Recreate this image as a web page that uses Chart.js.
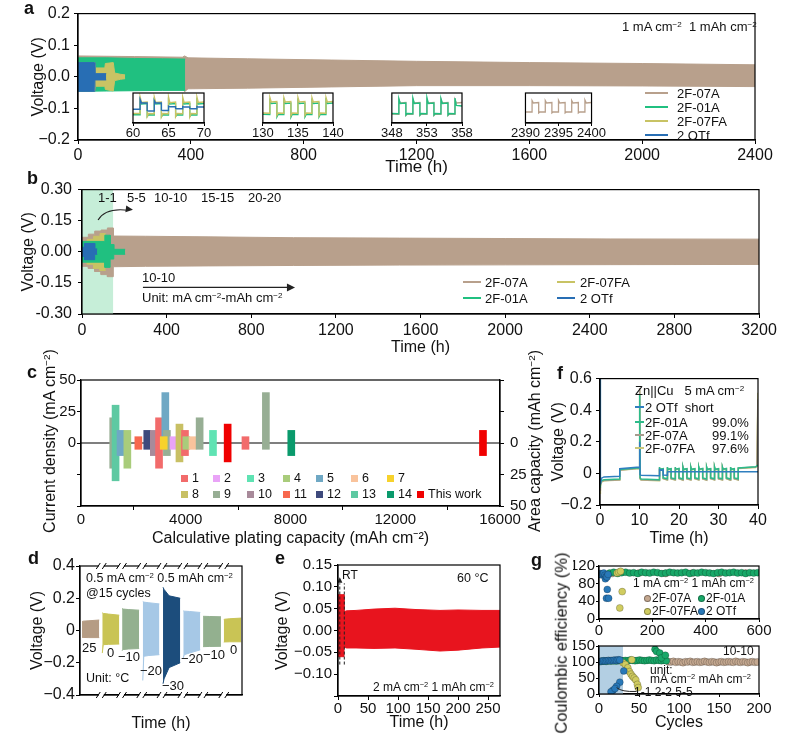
<!DOCTYPE html>
<html>
<head>
<meta charset="utf-8">
<title>Zn cells</title>
<script src="https://cdn.jsdelivr.net/npm/chart.js@4.4.0/dist/chart.umd.min.js"></script>
<style>
  body { margin: 0; background: #fff; }
  #fig { position: relative; width: 799px; height: 743px; overflow: hidden; font-family: "Liberation Sans", Arial, sans-serif; color: #111; }
  #fig canvas { position: absolute; }
  .t { position: absolute; white-space: nowrap; line-height: 1; }
  .t sup { font-size: 0.62em; vertical-align: 0.55em; line-height: 0; }
  .ln { position: absolute; height: 2px; }
  .sq { position: absolute; width: 7px; height: 7px; }
  .dot { position: absolute; width: 7px; height: 7px; border-radius: 50%; box-sizing: border-box; border: 0.6px solid rgba(0,0,0,0.35); }
</style>
</head>
<body>
<div id="fig">
  <canvas id="ca"></canvas>
  <canvas id="ca1"></canvas>
  <canvas id="ca2"></canvas>
  <canvas id="ca3"></canvas>
  <canvas id="ca4"></canvas>
  <canvas id="cb"></canvas>
  <canvas id="cc"></canvas>
  <canvas id="cf"></canvas>
  <canvas id="cd"></canvas>
  <canvas id="ce"></canvas>
  <canvas id="cg1"></canvas>
  <canvas id="cg2"></canvas>
</div>
<script>
// ---- a : 1 mA cm-2, 1 mAh cm-2 long cycling (envelopes of the dense voltage traces)
const aT07A = [0, 200, 370, 378, 390, 600, 900, 1200, 1600, 2000, 2400]
const aHi07A = [0.066, 0.064, 0.062, 0.066, 0.060, 0.057, 0.053, 0.049, 0.045, 0.042, 0.038]
const aLo07A = [-0.044, -0.042, -0.040, -0.047, -0.038, -0.036, -0.032, -0.028, -0.028, -0.029, -0.031]
const aT01A = [0, 100, 200, 300, 380]
const aHi01A = [0.060, 0.060, 0.058, 0.057, 0.056]
const aLo01A = [-0.046, -0.045, -0.044, -0.043, -0.043]
const aT07FA = [0, 60, 62, 95, 97, 125, 130, 150, 167]
const aHi07FA = [0.045, 0.045, 0.028, 0.028, 0.042, 0.045, 0.012, 0.008, 0.006]
const aLo07FA = [-0.045, -0.045, -0.030, -0.030, -0.040, -0.045, -0.012, -0.008, -0.006]
const aTOTf = [0, 58, 60, 100]
const aHiOTf = [0.045, 0.045, 0.010, 0.010]
const aLoOTf = [-0.046, -0.046, -0.010, -0.010]

// insets of a (local hours inside each 10 h window)
const insTime = [0, 1, 1, 1.2, 2, 2, 2.2, 3, 3, 3.2, 4, 4, 4.2, 5, 5, 5.2, 6, 6, 6.2, 7, 7, 7.2, 8, 8, 8.2, 9, 9, 9.2, 10]
const in1Ticks = ['60', '65', '70']
const in2Ticks = ['130', '135', '140']
const in3Ticks = ['348', '353', '358']
const in4Ticks = ['2390', '2395', '2400']
const in1FA = [-0.022, -0.022, 0.045, 0.022, 0.024, -0.035, -0.022, -0.023, 0.044, 0.022, 0.024, -0.036, -0.022, -0.023, 0.045, 0.021, 0.024, -0.035, -0.022, -0.023, 0.044, 0.022, 0.024, -0.036, -0.022, -0.023, 0.045, 0.022, 0.024]
const in1A01 = [-0.027, -0.027, 0.030, 0.016, 0.018, -0.034, -0.027, -0.028, 0.031, 0.016, 0.018, -0.035, -0.027, -0.028, 0.030, 0.016, 0.018, -0.034, -0.027, -0.028, 0.030, 0.016, 0.018, -0.034, -0.027, -0.028, 0.031, 0.016, 0.018]
const in1OTf = [-0.005, -0.005, 0.035, 0.020, 0.020, -0.010, -0.012, -0.012, 0.030, 0.020, 0.020, -0.008, -0.010, -0.010, 0.008, 0.005, 0.005, -0.002, -0.003, -0.003, 0.006, 0.004, 0.004, -0.002, -0.003, -0.003, 0.006, 0.004, 0.004]
const in2FA = [-0.020, -0.021, 0.043, 0.024, 0.026, -0.030, -0.020, -0.021, 0.042, 0.024, 0.026, -0.031, -0.020, -0.021, 0.043, 0.024, 0.026, -0.030, -0.020, -0.021, 0.042, 0.024, 0.026, -0.031, -0.020, -0.021, 0.043, 0.024, 0.026]
const in2A01 = [-0.025, -0.026, 0.030, 0.018, 0.020, -0.036, -0.025, -0.026, 0.031, 0.018, 0.020, -0.037, -0.025, -0.026, 0.030, 0.018, 0.020, -0.036, -0.025, -0.026, 0.030, 0.018, 0.020, -0.036, -0.025, -0.026, 0.031, 0.018, 0.020]
const in3A07 = [-0.024, -0.025, 0.034, 0.020, 0.022, -0.030, -0.024, -0.025, 0.035, 0.020, 0.022, -0.030, -0.024, -0.025, 0.034, 0.020, 0.022, -0.030, -0.024, -0.025, 0.035, 0.020, 0.022, -0.030, -0.024, -0.025, 0.034, 0.020, 0.022]
const in3A01 = [-0.022, -0.023, 0.038, 0.018, 0.020, -0.028, -0.022, -0.023, 0.040, 0.018, 0.020, -0.028, -0.022, -0.023, 0.042, 0.018, 0.020, -0.028, -0.022, -0.023, 0.038, 0.018, 0.020, -0.028, -0.022, -0.023, 0.040, 0.010, 0.008]
const in4A07 = [-0.016, -0.016, 0.030, 0.020, 0.022, -0.020, -0.016, -0.016, 0.030, 0.020, 0.022, -0.020, -0.016, -0.016, 0.031, 0.020, 0.022, -0.020, -0.016, -0.016, 0.030, 0.020, 0.022, -0.020, -0.016, -0.016, 0.032, 0.020, 0.022]

// ---- b : rate steps then 10 mA cm-2 / 10 mAh cm-2
const bShadeT = [0, 148]
const bShadeV = [0.3, 0.3]
const bT07A = [0, 30, 30, 60, 60, 90, 90, 120, 120, 148, 148, 300, 600, 1000, 1500, 2000, 2500, 3200]
const bHi07A = [0.07, 0.07, 0.085, 0.085, 0.10, 0.10, 0.105, 0.105, 0.115, 0.115, 0.076, 0.075, 0.072, 0.068, 0.066, 0.064, 0.062, 0.061]
const bLo07A = [-0.07, -0.07, -0.08, -0.08, -0.095, -0.095, -0.11, -0.11, -0.12, -0.12, -0.072, -0.070, -0.068, -0.066, -0.064, -0.063, -0.062, -0.061]
const bT07FA = [0, 25, 25, 55, 55, 85, 85, 112]
const bHi07FA = [0.045, 0.045, 0.06, 0.06, 0.075, 0.075, 0.088, 0.088]
const bLo07FA = [-0.045, -0.045, -0.06, -0.06, -0.08, -0.08, -0.09, -0.09]
const bT01A = [0, 108, 108, 133, 133, 150, 150, 204]
const bHi01A = [0.05, 0.05, 0.08, 0.08, 0.035, 0.035, 0.012, 0.012]
const bLo01A = [-0.05, -0.05, -0.075, -0.075, -0.035, -0.035, -0.012, -0.012]
const bTOTf = [0, 12, 12, 60, 60, 72]
const bHiOTf = [0.022, 0.022, 0.04, 0.04, 0.014, 0.014]
const bLoOTf = [-0.022, -0.022, -0.038, -0.038, -0.012, -0.012]

// ---- c : comparison with literature (current density up, areal capacity down)
const cCapacity = [1230, 1320, 1510, 1770, 2190, 2530, 2780, 2980, 3220, 3280, 3160, 3530, 3760, 3970, 4020, 4260, 4530, 5040, 5600, 6280, 7060, 8030, 15350]
const cCurrent = [20, 30, 10, 10, 5, 10, 10, 20, 40, 10, 5, 5, 15, 10, 5, 5, 20, 10, 15, 5, 40, 10, 10]
const cArea = [20, 30, 10, 20, 5, 5, 10, 20, 0, 10, 5, 5, 15, 10, 5, 5, 5, 10, 15, 5, 5, 10, 10]
const cRef = [9, 13, 5, 4, 11, 12, 10, 1, 5, 9, 7, 2, 8, 1, 4, 6, 9, 3, 0, 1, 9, 14, 0]
const cLabels = ['This work', '1', '2', '3', '4', '5', '6', '7', '8', '9', '10', '11', '12', '13', '14']
const cColors = ['#f00000', '#f26b6b', '#e9a3f7', '#5fe3b3', '#a9cc7b', '#6fa8c4', '#f9c39c', '#f7d22c', '#c8c064', '#97ae94', '#a88a9a', '#f7684e', '#3e4a7c', '#5ec9a2', '#0a9a6c']

// ---- f : Zn||Cu, 5 mA cm-2
const fTime = [
  0, 0.05, 0.15, 0.4, 1, 5, 5, 10, 10.05, 10.15, 10.4, 15,
  15, 15.15, 16, 16, 17,
  17, 17.15, 18, 18, 19,
  19, 19.15, 20, 20, 21,
  21, 21.15, 22, 22, 23,
  23, 23.15, 24, 24, 25,
  25, 25.15, 26, 26, 27,
  27, 27.15, 28, 28, 29,
  29, 29.15, 30, 30, 31,
  31, 31.15, 32, 32, 33,
  33, 33.15, 34, 34, 35,
  35, 39.4, 39.7, 39.85, 40
]
const fA01 = [
  -0.04, -0.09, -0.06, -0.045, -0.040, -0.036, 0.024, 0.036, 0.50, -0.028, -0.036, -0.040,
  0.040, 0.026, 0.030, -0.028, -0.034,
  0.041, 0.026, 0.030, -0.029, -0.034,
  0.040, 0.027, 0.031, -0.028, -0.035,
  0.041, 0.026, 0.030, -0.029, -0.034,
  0.040, 0.026, 0.030, -0.028, -0.034,
  0.041, 0.027, 0.031, -0.029, -0.035,
  0.040, 0.026, 0.030, -0.028, -0.034,
  0.041, 0.026, 0.030, -0.029, -0.034,
  0.040, 0.027, 0.031, -0.028, -0.035,
  0.041, 0.026, 0.030, -0.029, -0.034,
  0.034, 0.042, 0.047, 0.050, 0.052
]
const fA07 = [
  -0.05, -0.11, -0.07, -0.050, -0.045, -0.040, 0.022, 0.033, 0.54, -0.032, -0.040, -0.044,
  0.038, 0.024, 0.028, -0.032, -0.040,
  0.039, 0.024, 0.028, -0.033, -0.040,
  0.038, 0.025, 0.029, -0.032, -0.041,
  0.039, 0.024, 0.028, -0.033, -0.040,
  0.038, 0.024, 0.028, -0.032, -0.040,
  0.039, 0.025, 0.029, -0.033, -0.041,
  0.038, 0.024, 0.028, -0.032, -0.040,
  0.039, 0.024, 0.028, -0.033, -0.040,
  0.038, 0.025, 0.029, -0.032, -0.041,
  0.039, 0.024, 0.028, -0.033, -0.040,
  0.033, 0.040, 0.046, 0.24, 0.47
]
const fFA07 = [
  -0.06, -0.13, -0.08, -0.055, -0.047, -0.042, 0.020, 0.031, 0.53, -0.035, -0.042, -0.046,
  0.036, 0.022, 0.026, -0.034, -0.042,
  0.037, 0.022, 0.026, -0.035, -0.042,
  0.036, 0.023, 0.027, -0.034, -0.043,
  0.037, 0.022, 0.026, -0.035, -0.042,
  0.036, 0.022, 0.026, -0.034, -0.042,
  0.037, 0.023, 0.027, -0.035, -0.043,
  0.036, 0.022, 0.026, -0.034, -0.042,
  0.037, 0.022, 0.026, -0.035, -0.042,
  0.036, 0.023, 0.027, -0.034, -0.043,
  0.037, 0.022, 0.026, -0.035, -0.042,
  0.031, 0.038, 0.044, 0.30, 0.51
]
const fOTf = [
  0.0, 0.62, -0.07, -0.030, -0.022, -0.018, 0.030, 0.040, 0.20, -0.008, -0.012, -0.015,
  0.030, 0.020, 0.022, -0.010, -0.012,
  0.012, 0.010, 0.010, 0.010, 0.010,
  0.011, 0.010, 0.010, 0.010, 0.010,
  0.011, 0.010, 0.010, 0.010, 0.010,
  0.011, 0.010, 0.010, 0.010, 0.010,
  0.011, 0.010, 0.010, 0.010, 0.010,
  0.011, 0.010, 0.010, 0.010, 0.010,
  0.011, 0.010, 0.010, 0.010, 0.010,
  0.011, 0.010, 0.010, 0.010, 0.010,
  0.011, 0.010, 0.010, 0.010, 0.010,
  0.010, 0.010, 0.010, 0.010, 0.010
]

// ---- d : temperature steps, 0.5 mA cm-2 0.5 mAh cm-2 @15 cycles
const dTemps = ['25', '0', '−10', '−20', '−30', '−20', '−10', '0']
const dColors = ['#b59c84', '#c9c455', '#93b08f', '#a6c8e6', '#1c4d7c', '#a6c8e6', '#93b08f', '#c9c455']
const dX = [
  [0.10, 0.15, 0.40, 0.95], [1.10, 1.15, 1.40, 1.94], [2.08, 2.13, 2.38, 2.92], [3.10, 3.15, 3.40, 3.92],
  [4.10, 4.15, 4.40, 4.95], [5.10, 5.15, 5.40, 5.94], [6.08, 6.13, 6.38, 6.96], [7.10, 7.15, 7.40, 7.96]
]
const dHi = [
  [0.055, 0.058, 0.060, 0.065], [0.110, 0.106, 0.102, 0.095], [0.136, 0.133, 0.130, 0.126], [0.180, 0.176, 0.172, 0.165],
  [0.268, 0.255, 0.215, 0.200], [0.122, 0.120, 0.118, 0.112], [0.088, 0.088, 0.087, 0.085], [0.068, 0.070, 0.073, 0.077]
]
const dLo = [
  [-0.042, -0.043, -0.044, -0.044], [-0.140, -0.088, -0.086, -0.084], [-0.125, -0.118, -0.115, -0.112], [-0.310, -0.160, -0.155, -0.150],
  [-0.330, -0.300, -0.230, -0.200], [-0.170, -0.150, -0.140, -0.120], [-0.100, -0.100, -0.099, -0.098], [-0.072, -0.071, -0.070, -0.070]
]
const dBreaks = [1.05, 2.05, 3.05, 4.05, 5.08, 6.07, 7.1]

// ---- e : 60 °C, 2 mA cm-2 1 mAh cm-2
const eT = [0, 10, 10, 14, 30, 60, 95, 130, 170, 200, 240, 270]
const eHi = [0.082, 0.082, 0.043, 0.045, 0.046, 0.049, 0.051, 0.048, 0.046, 0.047, 0.046, 0.046]
const eLo = [-0.060, -0.060, -0.038, -0.040, -0.040, -0.041, -0.040, -0.043, -0.047, -0.045, -0.040, -0.038]
const eRT = [3, 10.5]

// ---- g : Coulombic efficiency
const g1Cyc01A = [40, 55, 70, 85, 100, 115, 130, 145, 160, 175, 190, 205, 220, 235, 250, 265, 280, 295, 310, 325, 340, 355, 370, 385, 400, 415, 430, 445, 460, 475, 490, 505, 520, 535, 550, 565, 580, 595]
const g1Ce01A = [104, 106, 103, 105, 106, 104, 105, 103, 106, 105, 104, 106, 105, 103, 104, 106, 105, 104, 105, 106, 103, 105, 104, 106, 105, 104, 103, 105, 106, 104, 105, 106, 104, 105, 103, 105, 104, 105]
const g1Cyc07A = [50, 150, 250, 350, 450, 550]
const g1Ce07A = [103, 104, 103, 104, 103, 104]
const g1CycOTf = [2, 6, 10, 14, 18, 22, 24, 27, 30, 31, 28, 34, 36]
const g1CeOTf = [101, 103, 100, 102, 104, 99, 91, 96, 95, 67, 47, 101, 47]
const g1Cyc07FA = [68, 74, 78, 81, 87]
const g1Ce07FA = [104, 106, 25, 108, 62]

const g2ShadeC = [0, 30]
const g2ShadeV = [150, 150]
const g2CycOTf = [2, 4, 6, 8, 10, 12, 14, 16, 18, 20, 22, 24, 26, 31, 26, 22, 17.5, 15, 20]
const g2CeOTf = [102, 103, 104, 103, 104, 105, 104, 105, 105, 106, 105, 107, 106, 72, 37, 24, 12, 7, 17]
const g2Cyc07FA = [30, 33, 36, 38, 40, 42, 44, 46, 48, 49, 41]
const g2Ce07FA = [98, 92, 82, 70, 62, 55, 50, 44, 30, 20, 107]
const g2Cyc01A = [0, 3, 6, 9, 12, 15, 18, 21, 24, 27, 30, 33, 36, 39, 42, 45, 48, 51, 54, 57, 60, 63, 66, 69, 72, 75, 78, 81, 84, 70, 72, 76, 78, 83]
const g2Ce01A = [101, 102, 103, 102, 104, 103, 104, 103, 104, 105, 104, 105, 104, 106, 105, 104, 105, 106, 105, 104, 105, 106, 105, 104, 106, 105, 104, 105, 104, 140, 133, 128, 113, 121]
const g2Cyc07A = [87, 90, 93, 96, 99, 102, 105, 108, 111, 114, 117, 120, 123, 126, 129, 132, 135, 138, 141, 144, 147, 150, 153, 156, 159, 162, 165, 168, 171, 174, 177, 180, 183, 186, 189, 192, 195, 198]
const g2Ce07A = [101, 100, 102, 99, 101, 100, 98, 101, 100, 102, 99, 100, 101, 99, 100, 102, 100, 99, 101, 100, 98, 100, 101, 99, 100, 101, 100, 99, 102, 100, 99, 101, 100, 98, 100, 101, 99, 100]

const col = { a07: '#b8a08c', a01: '#20c080', fa: '#c8c364', otf: '#286eb4' }

Chart.defaults.font.family = '"Liberation Sans", Arial, sans-serif'
Chart.defaults.color = '#111'
Chart.register({
  id: 'frame',
  afterDraw(ch) {
    const a = ch.chartArea, c = ch.ctx
    c.save()
    c.strokeStyle = '#000'
    c.lineWidth = 1.2
    c.strokeRect(a.left, a.top, a.right - a.left, a.bottom - a.top)
    c.restore()
  }
})

const pts = (xs, ys) => xs.map((x, i) => ({ x, y: ys[i] }))

function band(xs, hi, lo, color, order) {
  return [
    { data: pts(xs, hi), borderColor: color, backgroundColor: color, borderWidth: 1, pointRadius: 0, fill: '+1', order },
    { data: pts(xs, lo), borderColor: color, backgroundColor: color, borderWidth: 1, pointRadius: 0, fill: false, order }
  ]
}
function trace(xs, ys, color, width, order) {
  return { data: pts(xs, ys), borderColor: color, borderWidth: width, pointRadius: 0, fill: false, order }
}
function dots(xs, ys, color, order) {
  return { type: 'scatter', data: pts(xs, ys), backgroundColor: color, borderColor: 'rgba(0,0,0,0.35)', borderWidth: 0.6, pointRadius: 3.5, order }
}

function canvas(id, L, T, R, B, m) {
  const c = document.getElementById(id)
  c.width = R - L + m[0] + m[2]
  c.height = B - T + m[1] + m[3]
  c.style.left = (L - m[0]) + 'px'
  c.style.top = (T - m[1]) + 'px'
  return c
}

function axis(min, max, step, size, fmt, title, tsize, pad) {
  return {
    type: 'linear', min, max,
    border: { color: '#000', width: 1.2 },
    grid: { drawOnChartArea: false, color: '#000', tickLength: 4 },
    ticks: { stepSize: step, includeBounds: false, autoSkip: false, maxRotation: 0, minRotation: 0, padding: pad, font: { size }, color: '#111', callback: fmt },
    title: { display: !!title, text: title || '', font: { size: tsize || 16 }, padding: 0, color: '#111' }
  }
}

function opts(m, x, y, y2) {
  x.afterFit = s => { s.height = m[3] }
  y.afterFit = s => { s.width = m[0] }
  const scales = { x, y }
  if (y2) {
    y2.afterFit = s => { s.width = m[2] }
    scales.y2 = y2
  }
  return {
    responsive: false, animation: false, events: [],
    layout: { padding: { left: 0, top: m[1], right: y2 ? 0 : m[2], bottom: 0 } },
    plugins: { legend: { display: false }, tooltip: { enabled: false } },
    scales
  }
}

const plain = v => String(v)
const neg = (v, d, minus) => Math.abs(v) < 1e-9 ? (0).toFixed(d) : (v < 0 ? minus : '') + Math.abs(v).toFixed(d)

function head(c, x, y, ang, s) {
  c.beginPath()
  c.moveTo(x, y)
  c.lineTo(x - s * Math.cos(ang - 0.45), y - s * Math.sin(ang - 0.45))
  c.lineTo(x - s * Math.cos(ang + 0.45), y - s * Math.sin(ang + 0.45))
  c.closePath()
  c.fill()
}

// ---------- a
const mA = [49, 12, 30, 38]
new Chart(canvas('ca', 78, 12, 755, 140, mA), {
  type: 'line',
  data: {
    datasets: [
      ...band(aTOTf, aHiOTf, aLoOTf, col.otf, 0),
      ...band(aT07FA, aHi07FA, aLo07FA, col.fa, 1),
      ...band(aT01A, aHi01A, aLo01A, col.a01, 2),
      ...band(aT07A, aHi07A, aLo07A, col.a07, 3)
    ]
  },
  options: opts(mA,
    axis(0, 2400, 400, 16, plain, 'Time (h)', 17, 2),
    axis(-0.2, 0.2, 0.1, 16, v => v < -0.15 ? '−0.2' : neg(v, 1, '-'), 'Voltage (V)', 16, 4))
})

function inset(id, L, ticks, sets) {
  const m = [10, 2, 14, 18]
  new Chart(canvas(id, L, 93, L + 71, 123, m), {
    type: 'line',
    data: { datasets: sets },
    options: {
      responsive: false, animation: false, events: [],
      layout: { padding: { left: m[0], top: m[1], right: m[2], bottom: 0 } },
      plugins: { legend: { display: false }, tooltip: { enabled: false } },
      scales: {
        x: {
          type: 'linear', min: 0, max: 10,
          border: { color: '#000', width: 1.2 },
          grid: { drawOnChartArea: false, color: '#000', tickLength: 3 },
          ticks: { stepSize: 5, autoSkip: false, maxRotation: 0, padding: 0, font: { size: 13 }, color: '#111', callback: (v, i) => ticks[i] },
          afterFit: s => { s.height = m[3] }
        },
        y: { display: false, min: -0.06, max: 0.06 }
      }
    },
    plugins: [{
      id: 'white',
      beforeDraw(ch) {
        const a = ch.chartArea
        ch.ctx.fillStyle = '#fff'
        ch.ctx.fillRect(a.left, a.top, a.right - a.left, a.bottom - a.top)
      }
    }]
  })
}
inset('ca1', 133, in1Ticks, [trace(insTime, in1OTf, col.otf, 1.3, 0), trace(insTime, in1FA, col.fa, 1.3, 1), trace(insTime, in1A01, col.a01, 1.3, 2)])
inset('ca2', 262, in2Ticks, [trace(insTime, in2FA, col.fa, 1.3, 0), trace(insTime, in2A01, col.a01, 1.3, 1)])
inset('ca3', 391, in3Ticks, [trace(insTime, in3A01, col.a01, 1.3, 0), trace(insTime, in3A07, col.a07, 1.3, 1)])
inset('ca4', 521, in4Ticks, [trace(insTime, in4A07, col.a07, 1.3, 0)])

// ---------- b
const mB = [63, 12, 30, 43]
const bArrows = {
  id: 'bArrows',
  afterDatasetsDraw(ch) {
    const { x, y } = ch.scales, c = ch.ctx
    c.save()
    c.strokeStyle = '#222'
    c.fillStyle = '#222'
    c.lineWidth = 1.2
    const x0 = x.getPixelForValue(76), y0 = y.getPixelForValue(0.153)
    const x1 = x.getPixelForValue(222), y1 = y.getPixelForValue(0.2)
    const cx = x.getPixelForValue(110), cy = y.getPixelForValue(0.215)
    c.beginPath()
    c.moveTo(x0, y0)
    c.quadraticCurveTo(cx, cy, x1, y1)
    c.stroke()
    head(c, x1 + 4, y1 - 0.5, Math.atan2(y1 - cy, x1 - cx), 8)
    const x2 = x.getPixelForValue(288), x3 = x.getPixelForValue(1007), y2 = y.getPixelForValue(-0.172)
    c.beginPath()
    c.moveTo(x2, y2)
    c.lineTo(x3 - 4, y2)
    c.stroke()
    head(c, x3, y2, 0, 9)
    c.restore()
  }
}
new Chart(canvas('cb', 82, 186, 759, 314, mB), {
  type: 'line',
  data: {
    datasets: [
      ...band(bTOTf, bHiOTf, bLoOTf, col.otf, 0),
      ...band(bT01A, bHi01A, bLo01A, col.a01, 1),
      ...band(bT07FA, bHi07FA, bLo07FA, col.fa, 2),
      ...band(bT07A, bHi07A, bLo07A, col.a07, 3),
      { data: pts(bShadeT, bShadeV), borderWidth: 0, pointRadius: 0, backgroundColor: '#c6eed8', fill: { value: -0.3 }, order: 4 }
    ]
  },
  options: opts(mB,
    axis(0, 3200, 400, 16, plain, 'Time (h)', 16, 3),
    axis(-0.3, 0.3, 0.15, 16, v => neg(v, 2, '-'), 'Voltage (V)', 16, 6)),
  plugins: [bArrows]
})

// ---------- c
const mC = [41, 12, 28, 42]
const cY = axis(-50, 50, 25, 15, v => v >= 0 ? String(v) : '', '', 16, 1)
const cY2 = axis(-50, 50, 25, 15, v => v <= 0 ? String(Math.abs(v)) : '', '', 16, 6)
cY2.position = 'right'
const cX = axis(0, 16000, 4000, 15, plain, 'Calculative plating capacity (mAh cm⁻²)', 16, 1)
cX.offset = false
new Chart(canvas('cc', 81, 377, 500, 506, mC), {
  type: 'bar',
  data: {
    datasets: [
      {
        data: cCapacity.map((x, i) => ({ x, y: [-cArea[i], cCurrent[i]] })),
        backgroundColor: cRef.map(r => cColors[r]),
        barThickness: 7, borderWidth: 0, order: 0
      },
      { type: 'line', data: [{ x: 0, y: 0 }, { x: 16000, y: 0 }], borderColor: '#000', borderWidth: 1.2, pointRadius: 0, order: 1 }
    ]
  },
  options: opts(mC, cX, cY, cY2)
})

// ---------- f
const mF = [51, 12, 22, 43]
new Chart(canvas('cf', 600, 377, 758, 505, mF), {
  type: 'line',
  data: {
    datasets: [
      trace(fTime, fOTf, '#2f7fbf', 1.5, 0),
      trace(fTime, fA01, '#2dbb8a', 1.5, 1),
      trace(fTime, fA07, '#a69b8d', 1.5, 2),
      trace(fTime, fFA07, '#c9c77a', 1.5, 3)
    ]
  },
  options: opts(mF,
    axis(0, 40, 10, 16, plain, 'Time (h)', 16, 2),
    axis(-0.2, 0.6, 0.2, 16, v => Math.abs(v) < 1e-9 ? '0' : neg(v, 1, '−'), 'Voltage (V)', 16, 4))
})

// ---------- d
const mD = [52, 12, 12, 38]
const dSets = []
dX.forEach((xs, i) => dSets.push(...band(xs, dHi[i], dLo[i], dColors[i], 0)))
const dXAxis = axis(0, 8, 1, 16, plain, 'Time (h)', 16, 0)
dXAxis.ticks.display = false
dXAxis.grid.drawTicks = false
const dBreakMarks = {
  id: 'dBreaks',
  afterDraw(ch) {
    const c = ch.ctx, a = ch.chartArea, x = ch.scales.x
    c.save()
    dBreaks.forEach(v => {
      const px = x.getPixelForValue(v)
      const rows = [a.top, a.bottom]
      rows.forEach(py => {
        c.fillStyle = '#fff'
        c.fillRect(px - 2.5, py - 2, 5, 4)
        c.strokeStyle = '#000'
        c.lineWidth = 1
        c.beginPath()
        c.moveTo(px - 5, py + 3)
        c.lineTo(px - 1, py - 3)
        c.moveTo(px + 1, py + 3)
        c.lineTo(px + 5, py - 3)
        c.stroke()
      })
    })
    c.restore()
  }
}
new Chart(canvas('cd', 80, 566, 242, 695, mD), {
  type: 'line',
  data: { datasets: dSets },
  options: opts(mD, dXAxis,
    axis(-0.4, 0.4, 0.2, 16, v => Math.abs(v) < 1e-9 ? '0' : neg(v, 1, '−'), 'Voltage (V)', 16, 1)),
  plugins: [dBreakMarks]
})

// ---------- e
const mE = [65, 12, 14, 36]
const eMarks = {
  id: 'eMarks',
  afterDatasetsDraw(ch) {
    const { x, y } = ch.scales, c = ch.ctx
    c.save()
    c.strokeStyle = '#222'
    c.fillStyle = '#222'
    c.lineWidth = 1
    c.setLineDash([3, 2])
    eRT.forEach(t => {
      c.beginPath()
      c.moveTo(x.getPixelForValue(t), y.getPixelForValue(-0.078))
      c.lineTo(x.getPixelForValue(t), y.getPixelForValue(0.108))
      c.stroke()
    })
    c.setLineDash([])
    head(c, x.getPixelForValue(eRT[0]), y.getPixelForValue(0.122), -Math.PI / 2, 6)
    c.restore()
  }
}
new Chart(canvas('ce', 338, 565, 500, 696, mE), {
  type: 'line',
  data: { datasets: band(eT, eHi, eLo, '#e8141e', 0) },
  options: opts(mE,
    axis(0, 270, 50, 15, plain, 'Time (h)', 16, 0),
    axis(-0.15, 0.15, 0.05, 15, v => v < -0.12 ? '' : neg(v, 2, '−'), 'Voltage (V)', 16, 2)),
  plugins: [eMarks]
})

// ---------- g
const mG1 = [26, 10, 25, 20]
const g1X = axis(0, 600, 200, 15, plain, '', 15, 0)
g1X.grid.tickLength = 3
const g1Y = axis(0, 120, 40, 15, plain, '', 15, 1)
g1Y.grid.tickLength = 3
new Chart(canvas('cg1', 599, 566, 759, 619, mG1), {
  type: 'scatter',
  data: {
    datasets: [
      dots(g1CycOTf, g1CeOTf, '#2878b8', 0),
      dots(g1Cyc07FA, g1Ce07FA, '#d0cc60', 1),
      dots(g1Cyc01A, g1Ce01A, '#18a868', 2),
      dots(g1Cyc07A, g1Ce07A, '#c4a890', 3)
    ]
  },
  options: opts(mG1, g1X, g1Y)
})

const mG2 = [26, 8, 25, 38]
const g2X = axis(0, 200, 50, 15, plain, 'Cycles', 16, 3)
g2X.grid.tickLength = 3
const g2Y = axis(0, 150, 50, 15, plain, '', 15, 1)
g2Y.grid.tickLength = 3
const g2Curve = {
  id: 'g2Curve',
  afterDatasetsDraw(ch) {
    const { x, y } = ch.scales, c = ch.ctx
    c.save()
    c.strokeStyle = '#222'
    c.lineWidth = 1
    c.beginPath()
    c.moveTo(x.getPixelForValue(22), y.getPixelForValue(20))
    c.quadraticCurveTo(x.getPixelForValue(28), y.getPixelForValue(6), x.getPixelForValue(47), y.getPixelForValue(8))
    c.stroke()
    c.restore()
  }
}
new Chart(canvas('cg2', 599, 644, 759, 694, mG2), {
  type: 'scatter',
  data: {
    datasets: [
      dots(g2CycOTf, g2CeOTf, '#2878b8', 0),
      dots(g2Cyc07FA, g2Ce07FA, '#d0cc60', 1),
      dots(g2Cyc01A, g2Ce01A, '#18a868', 2),
      dots(g2Cyc07A, g2Ce07A, '#c4a890', 3),
      { type: 'line', data: pts(g2ShadeC, g2ShadeV), borderWidth: 0, pointRadius: 0, backgroundColor: '#b3cfe3', fill: 'start', order: 4 }
    ]
  },
  options: opts(mG2, g2X, g2Y),
  plugins: [g2Curve]
})

// ---------- text, legends and panel letters
const fig = document.getElementById('fig')
function txt(x, y, size, html, style) {
  const d = document.createElement('div')
  d.className = 't'
  d.style.left = x + 'px'
  d.style.top = (y - size / 2) + 'px'
  d.style.fontSize = size + 'px'
  if (style) d.style.cssText += style
  d.innerHTML = html
  fig.appendChild(d)
  return d
}
function vtxt(cx, cy, size, html) {
  const d = txt(cx, cy, size, html, 'transform: translate(-50%, -50%) rotate(-90deg);')
  d.style.top = cy + 'px'
}
function seg(x1, x2, y, color) {
  const d = document.createElement('div')
  d.className = 'ln'
  d.style.cssText = `left:${x1}px;top:${y - 1}px;width:${x2 - x1}px;background:${color}`
  fig.appendChild(d)
}
function box(cls, x, y, color) {
  const d = document.createElement('div')
  d.className = cls
  d.style.cssText += `left:${x}px;top:${y - 3.5}px;background:${color}`
  fig.appendChild(d)
}
const letter = (x, y, s) => txt(x, y, 18, s, 'font-weight:bold')
const cm2 = 'cm<sup>−2</sup>'

letter(24, 8, 'a')
letter(27, 178, 'b')
letter(27, 372, 'c')
letter(28, 558, 'd')
letter(275, 558, 'e')
letter(557, 373, 'f')
letter(531, 560, 'g')

// a
txt(622, 26, 13, `1 mA ${cm2}&nbsp; 1 mAh ${cm2}`)
const aLeg = [['2F-07A', col.a07], ['2F-01A', col.a01], ['2F-07FA', col.fa], ['2 OTf', col.otf]]
aLeg.forEach((e, i) => {
  seg(645, 668, 93 + i * 14, e[1])
  txt(677, 93 + i * 14, 13, e[0])
})

// b
const bSteps = [['1-1', 98], ['5-5', 127], ['10-10', 154], ['15-15', 201], ['20-20', 248]]
bSteps.forEach(s => txt(s[1], 197, 13, s[0]))
txt(142, 277, 13, '10-10')
txt(142, 297, 13, `Unit: mA ${cm2}-mAh ${cm2}`)
seg(463, 481, 282, col.a07); txt(485, 282, 13, '2F-07A')
seg(463, 481, 298, col.a01); txt(485, 298, 13, '2F-01A')
seg(557, 575, 282, col.fa); txt(580, 282, 13, '2F-07FA')
seg(557, 575, 298, col.otf); txt(580, 298, 13, '2 OTf')

// c legend and axis titles
const cSqX = [181, 213, 247, 283, 316, 351, 387]
for (let i = 1; i <= 14; i++) {
  const x = cSqX[(i - 1) % 7], y = i <= 7 ? 478 : 494
  box('sq', x, y, cColors[i])
  txt(x + 11, y, 12.5, cLabels[i])
}
box('sq', 417, 494, cColors[0])
txt(428, 494, 12.5, cLabels[0])
vtxt(50, 441, 16, `Current density (mA ${cm2})`)
vtxt(535, 441, 16, `Area capacity (mAh ${cm2})`)

// f legend
txt(635, 390, 13, `Zn||Cu&nbsp;&nbsp; 5 mA ${cm2}`)
const fLeg = [['2 OTf&nbsp; short', '', '#2f7fbf'], ['2F-01A', '99.0%', '#2dbb8a'], ['2F-07A', '99.1%', '#a69b8d'], ['2F-07FA', '97.6%', '#c9c77a']]
fLeg.forEach((e, i) => {
  const y = [407, 422, 435, 448][i]
  seg(635, 644, y, e[2])
  txt(645, y, 13, e[0])
  if (e[1]) txt(712, y, 13, e[1])
})

// d
txt(86, 578, 12.5, `0.5 mA ${cm2} 0.5 mAh ${cm2}`)
txt(86, 593, 12.5, '@15 cycles')
txt(86, 678, 12.5, 'Unit: °C')
const dLabPos = [[82, 647], [107, 652], [118, 656], [140, 670], [162, 685], [181, 658], [203, 654], [230, 649]]
dTemps.forEach((s, i) => txt(dLabPos[i][0], dLabPos[i][1], 13, s))

// e
txt(342, 575, 12, 'RT')
txt(457, 578, 12.5, '60 °C')
txt(373, 687, 12, `2 mA ${cm2} 1 mAh ${cm2}`)

// g
txt(633, 583, 12, `1 mA ${cm2} 1 mAh ${cm2}`)
box('dot', 644, 598, '#c4a890'); txt(652, 598, 12, '2F-07A')
box('dot', 698, 598, '#18a868'); txt(706, 598, 12, '2F-01A')
box('dot', 644, 611, '#d0cc60'); txt(652, 611, 12, '2F-07FA')
box('dot', 698, 611, '#2878b8'); txt(706, 611, 12, '2 OTf')
txt(723, 651, 12, '10-10')
txt(650, 670, 12, 'unit:')
txt(650, 679, 12, `mA ${cm2} mAh ${cm2}`)
txt(634, 692, 12, '1-1 2-2 5-5')
vtxt(561, 643, 16.5, 'Coulombic efficiency (%)')
</script>
</body>
</html>
